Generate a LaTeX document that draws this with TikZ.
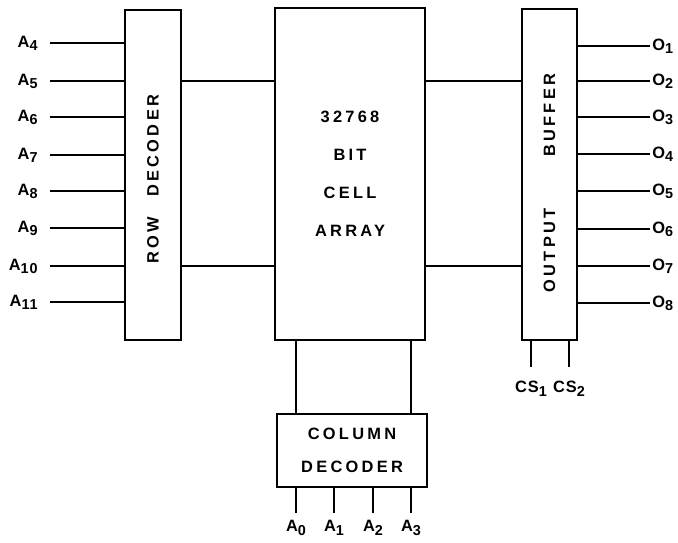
\documentclass[tikz,border=0pt]{standalone}
\usepackage{fontspec}
\setmainfont{Liberation Sans}[LetterSpace=6]
\newfontfamily\blockfont{Liberation Sans}[LetterSpace=20]
\usetikzlibrary{positioning}
\newcommand\pinsub[1]{\raisebox{-0.45ex}{\fontsize{7.2}{8}\selectfont#1}}

\begin{document}
\begin{tikzpicture}[x=0.5pt,y=-0.5pt]
\tikzstyle{block} = [rectangle, draw=black, line width=1.3pt, inner sep=0pt, text centered, font=\fontsize{8.2}{9}\selectfont\blockfont\bfseries]
\tikzstyle{wire} = [line width=1pt]
\tikzstyle{lbl} = [inner sep=0pt, font=\fontsize{8.2}{9}\selectfont\bfseries]
\tikzstyle{inlbl} = [lbl, anchor=base east, xshift=-6pt, yshift=-2pt]
\tikzstyle{outlbl} = [lbl, anchor=base west, xshift=1pt, yshift=-2pt]
\tikzstyle{botlbl} = [lbl, anchor=north]

\useasboundingbox (0,0) rectangle (678,542);

\node (rowdec) [block, minimum width=28pt, minimum height=165pt] at (153,175) {};
\node (rowtxt) [lbl, rotate=90, font=\fontsize{8.2}{9}\selectfont\blockfont\bfseries] at (153,179) {ROW\hspace{10pt}DECODER};
\node (array) [block, minimum width=75pt, minimum height=166pt, align=center, font=\fontsize{8.2}{19}\selectfont\blockfont\bfseries] at (350,174) {32768\\BIT\\CELL\\ARRAY};
\node (outbuf) [block, minimum width=27.5pt, minimum height=165.5pt] at (549.5,174.5) {};
\node (outtxt) [lbl, rotate=90, font=\fontsize{8.2}{9}\selectfont\blockfont\bfseries] at (549.5,183) {OUTPUT\hspace{26pt}BUFFER};
\node (coldec) [block, minimum width=75pt, minimum height=36.5pt, align=center, font=\fontsize{8.2}{16.5}\selectfont\blockfont\bfseries] at (352,450.5) {COLUMN\\DECODER};

\foreach \n/\y in {4/43,5/81,6/117,7/155,8/191,9/228,10/266,11/302} {
  \coordinate (a\n) at (50,\y);
  \node (la\n) [inlbl] at (a\n) {A\pinsub{\n}};
  \draw [wire] (a\n) -- (rowdec.west |- a\n);
}
\foreach \n/\y in {1/46,2/81,3/117,4/154,5/191,6/229,7/266,8/303} {
  \coordinate (o\n) at (650,\y);
  \node (lo\n) [outlbl] at (o\n) {O\pinsub{\n}};
  \draw [wire] (outbuf.east |- o\n) -- (o\n);
}
\foreach \n/\x in {0/296,1/334,2/373,3/411} {
  \coordinate (c\n) at (\x,513);
  \node (lc\n) [botlbl, yshift=-3.5pt] at (c\n) {A\pinsub{\n}};
  \draw [wire] (coldec.south -| c\n) -- (c\n);
}
\foreach \n/\x in {1/531,2/569} {
  \coordinate (s\n) at (\x,367);
  \node (ls\n) [botlbl, yshift=-7pt] at (s\n) {CS\pinsub{\n}};
  \draw [wire] (outbuf.south -| s\n) -- (s\n);
}

\draw [wire] (rowdec.east |- a5) -- (array.west |- a5);
\draw [wire] (rowdec.east |- a10) -- (array.west |- a10);
\draw [wire] (array.east |- o2) -- (outbuf.west |- o2);
\draw [wire] (array.east |- o7) -- (outbuf.west |- o7);
\draw [wire] (array.south -| c0) -- (coldec.north -| c0);
\draw [wire] (array.south -| c3) -- (coldec.north -| c3);

\end{tikzpicture}
\end{document}
